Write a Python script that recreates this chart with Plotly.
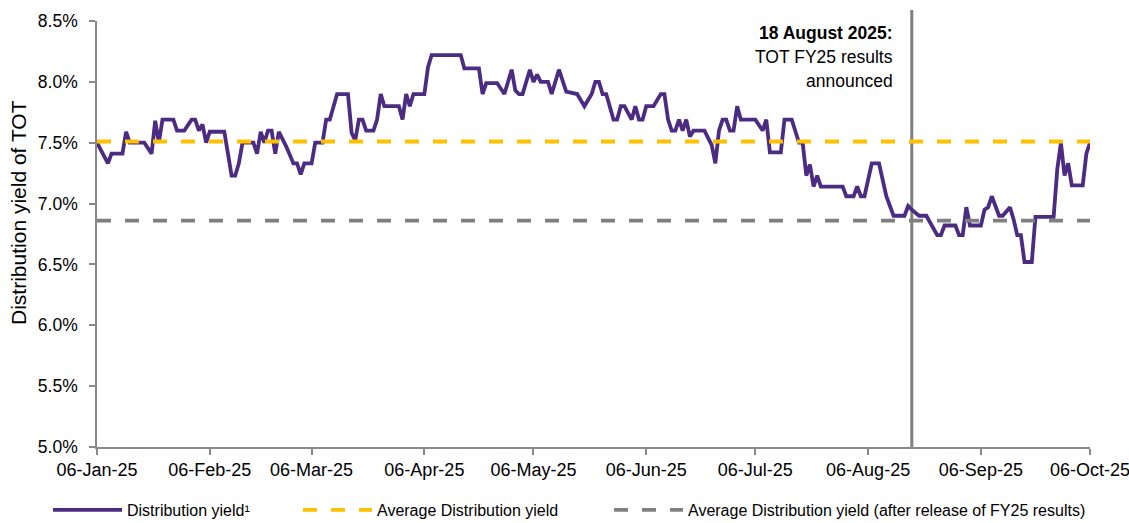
import plotly.graph_objects as go

# ---- data ----
dates = [
    "2025-01-06", "2025-01-09", "2025-01-10", "2025-01-13", "2025-01-14", "2025-01-15",
    "2025-01-19", "2025-01-21", "2025-01-22", "2025-01-23", "2025-01-24", "2025-01-27",
    "2025-01-28", "2025-01-30", "2025-02-01", "2025-02-02", "2025-02-03", "2025-02-04",
    "2025-02-05", "2025-02-06", "2025-02-10", "2025-02-12", "2025-02-13", "2025-02-14",
    "2025-02-15", "2025-02-18", "2025-02-19", "2025-02-20", "2025-02-21", "2025-02-22",
    "2025-02-23", "2025-02-24", "2025-02-25", "2025-02-27", "2025-03-01", "2025-03-02",
    "2025-03-03", "2025-03-04", "2025-03-06", "2025-03-07", "2025-03-09", "2025-03-10",
    "2025-03-11", "2025-03-13", "2025-03-16", "2025-03-17", "2025-03-18", "2025-03-19",
    "2025-03-20", "2025-03-21", "2025-03-23", "2025-03-24", "2025-03-25", "2025-03-26",
    "2025-03-30", "2025-03-31", "2025-04-01", "2025-04-02", "2025-04-03", "2025-04-06",
    "2025-04-07", "2025-04-08", "2025-04-16", "2025-04-17", "2025-04-21", "2025-04-22",
    "2025-04-23", "2025-04-26", "2025-04-28", "2025-04-30", "2025-05-01", "2025-05-02",
    "2025-05-03", "2025-05-05", "2025-05-06", "2025-05-07", "2025-05-08", "2025-05-10",
    "2025-05-11", "2025-05-13", "2025-05-15", "2025-05-18", "2025-05-20", "2025-05-22",
    "2025-05-23", "2025-05-24", "2025-05-25", "2025-05-26", "2025-05-28", "2025-05-29",
    "2025-05-30", "2025-05-31", "2025-06-02", "2025-06-03", "2025-06-04", "2025-06-05",
    "2025-06-06", "2025-06-08", "2025-06-10", "2025-06-11", "2025-06-12", "2025-06-13",
    "2025-06-14", "2025-06-15", "2025-06-16", "2025-06-17", "2025-06-18", "2025-06-19",
    "2025-06-22", "2025-06-24", "2025-06-25", "2025-06-26", "2025-06-27", "2025-06-28",
    "2025-06-29", "2025-06-30", "2025-07-01", "2025-07-02", "2025-07-06", "2025-07-08",
    "2025-07-09", "2025-07-10", "2025-07-13", "2025-07-14", "2025-07-16", "2025-07-18",
    "2025-07-19", "2025-07-20", "2025-07-21", "2025-07-22", "2025-07-23", "2025-07-24",
    "2025-07-30", "2025-07-31", "2025-08-02", "2025-08-03", "2025-08-04", "2025-08-05",
    "2025-08-07", "2025-08-09", "2025-08-11", "2025-08-13", "2025-08-16", "2025-08-17",
    "2025-08-18", "2025-08-20", "2025-08-22", "2025-08-24", "2025-08-25", "2025-08-26",
    "2025-08-27", "2025-08-30", "2025-08-31", "2025-09-01", "2025-09-02", "2025-09-03",
    "2025-09-06", "2025-09-07", "2025-09-08", "2025-09-09", "2025-09-11", "2025-09-12",
    "2025-09-14", "2025-09-15", "2025-09-16", "2025-09-17", "2025-09-18", "2025-09-20",
    "2025-09-21", "2025-09-26", "2025-09-27", "2025-09-28", "2025-09-29", "2025-09-30",
    "2025-10-01", "2025-10-04", "2025-10-05", "2025-10-06",
]
yield_pct = [
    7.50, 7.33, 7.41, 7.41, 7.59, 7.50,
    7.50, 7.41, 7.68, 7.50, 7.69, 7.69,
    7.60, 7.60, 7.69, 7.69, 7.60, 7.65,
    7.50, 7.59, 7.59, 7.23, 7.23, 7.33,
    7.50, 7.50, 7.41, 7.59, 7.50, 7.60,
    7.60, 7.41, 7.59, 7.47, 7.33, 7.33,
    7.24, 7.33, 7.33, 7.50, 7.50, 7.69,
    7.69, 7.90, 7.90, 7.58, 7.52, 7.69,
    7.69, 7.60, 7.60, 7.69, 7.90, 7.80,
    7.80, 7.69, 7.90, 7.80, 7.90, 7.90,
    8.12, 8.22, 8.22, 8.11, 8.11, 7.90,
    7.99, 7.99, 7.90, 8.10, 7.93, 7.90,
    7.90, 8.10, 8.00, 8.06, 8.00, 8.00,
    7.90, 8.10, 7.92, 7.90, 7.80, 7.90,
    8.00, 8.00, 7.90, 7.90, 7.69, 7.69,
    7.80, 7.80, 7.69, 7.80, 7.69, 7.69,
    7.80, 7.80, 7.90, 7.90, 7.69, 7.60,
    7.60, 7.69, 7.60, 7.69, 7.55, 7.60,
    7.60, 7.48, 7.33, 7.60, 7.69, 7.69,
    7.60, 7.60, 7.80, 7.69, 7.69, 7.60,
    7.69, 7.42, 7.42, 7.69, 7.69, 7.50,
    7.50, 7.23, 7.32, 7.14, 7.23, 7.14,
    7.14, 7.06, 7.06, 7.14, 7.06, 7.06,
    7.33, 7.33, 7.06, 6.90, 6.90, 6.98,
    6.95, 6.90, 6.90, 6.80, 6.74, 6.74,
    6.82, 6.82, 6.74, 6.74, 6.97, 6.82,
    6.82, 6.95, 6.97, 7.06, 6.90, 6.90,
    6.97, 6.87, 6.74, 6.74, 6.52, 6.52,
    6.89, 6.89, 7.28, 7.50, 7.23, 7.33,
    7.15, 7.15, 7.41, 7.50,
]
avg_yield = 7.51
avg_yield_after = 6.86
period = ["2025-01-06", "2025-10-06"]
results_date = "2025-08-18"
tick_dates = ["2025-01-06", "2025-02-06", "2025-03-06", "2025-04-06", "2025-05-06",
              "2025-06-06", "2025-07-06", "2025-08-06", "2025-09-06", "2025-10-06"]
y_ticks = [5.0, 5.5, 6.0, 6.5, 7.0, 7.5, 8.0, 8.5]
y_tick_labels = ["5.0%", "5.5%", "6.0%", "6.5%", "7.0%", "7.5%", "8.0%", "8.5%"]
y_title = "Distribution yield of TOT"
note_lines = ["<b>18 August 2025:</b>", "TOT FY25 results", "announced"]

PURPLE = "#4B2C82"
YELLOW = "#FFC000"
GREY = "#808080"
AXIS = "#888888"
FONT = "Liberation Sans, Arial, sans-serif"

fig = go.Figure()
fig.add_trace(go.Scatter(x=dates, y=yield_pct, mode="lines",
                         line=dict(color=PURPLE, width=3.8),
                         name="Distribution yield¹", legend="legend"))
fig.add_trace(go.Scatter(x=period, y=[avg_yield, avg_yield], mode="lines",
                         line=dict(color=YELLOW, width=3.8, dash="14px,14px"),
                         name="Average Distribution yield", legend="legend2"))
fig.add_trace(go.Scatter(x=period, y=[avg_yield_after, avg_yield_after], mode="lines",
                         line=dict(color=GREY, width=3.8, dash="14px,14px"),
                         name="Average Distribution yield (after release of FY25 results)",
                         legend="legend3"))

fig.add_shape(type="line", xref="x", yref="paper", x0=results_date, x1=results_date,
              y0=0, y1=1.026, line=dict(color=GREY, width=3), layer="below")

for line_text, ypos in zip(note_lines, [0.9718, 0.9155, 0.8592]):
    fig.add_annotation(xref="x", yref="paper", x=results_date, y=ypos, xshift=-17,
                       xanchor="right", yanchor="middle", align="right", showarrow=False,
                       text=line_text, font=dict(family=FONT, size=17.5, color="#000000"))

# y-axis title (placed like the reference, slightly above the axis centre)
fig.add_annotation(xref="paper", yref="paper", x=-0.0796, y=0.5516, textangle=-90,
                   xanchor="center", yanchor="middle", showarrow=False, text=y_title,
                   font=dict(family=FONT, size=21, color="#000000"))

legend_common = dict(orientation="h", xref="container", yref="container",
                     y=0.0249, yanchor="middle", xanchor="left",
                     font=dict(family=FONT, size=16, color="#000000"),
                     itemwidth=69, bgcolor="rgba(0,0,0,0)", borderwidth=0)

fig.update_layout(
    width=1129, height=523,
    margin=dict(l=97, r=39, t=21, b=76),
    paper_bgcolor="white", plot_bgcolor="white",
    font=dict(family=FONT, size=18, color="#000000"),
    showlegend=True,
    legend=dict(x=48 / 1129, **legend_common),
    legend2=dict(x=298 / 1129, **legend_common),
    legend3=dict(x=609 / 1129, **legend_common),
)
fig.update_xaxes(type="date", range=period, tickvals=tick_dates, tickformat="%d-%b-%y",
                 showgrid=False, zeroline=False, showline=True, linecolor=AXIS,
                 linewidth=1.5, ticks="outside", ticklen=6, tickcolor=AXIS, tickwidth=1.5,
                 ticklabeloverflow="allow", automargin=False,
                 tickfont=dict(family=FONT, size=18))
fig.update_yaxes(range=[5.0, 8.5], tickvals=y_ticks, ticktext=y_tick_labels,
                 showgrid=False, zeroline=False, showline=True, linecolor=AXIS,
                 linewidth=1.5, ticks="outside", ticklen=6, tickcolor=AXIS, tickwidth=1.5,
                 ticklabelstandoff=8, automargin=False,
                 tickfont=dict(family=FONT, size=17.5))

fig.write_html("out.html", config={"displayModeBar": False},
               post_script="document.body.style.margin = '0';")
